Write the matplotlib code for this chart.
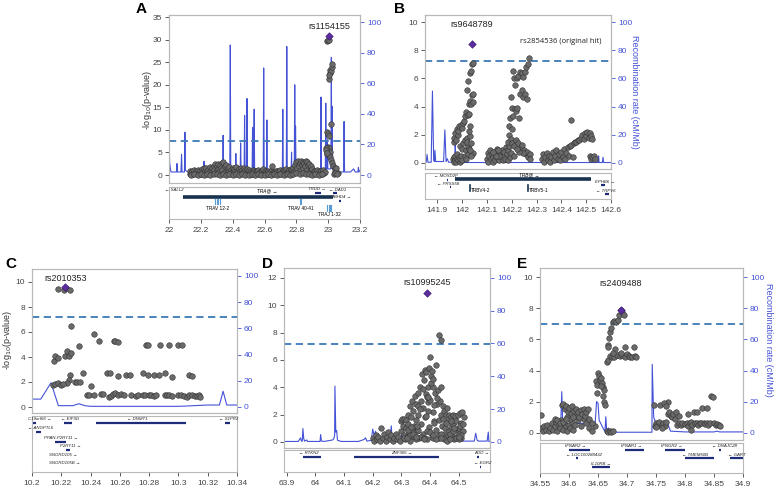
import matplotlib
matplotlib.use("Agg")
import matplotlib.pyplot as plt

plt.rcParams["font.family"] = ["Liberation Sans", "DejaVu Sans"]

# ==============================
# DATA
# ==============================
# --- panel A : TRA@ locus (chr14)
a_pos = [22.13, 22.135, 22.14, 22.145, 22.15, 22.155, 22.16, 22.165, 22.17, 22.175, 22.18, 22.185,
         22.19, 22.195, 22.2, 22.205, 22.21, 22.215, 22.22, 22.225, 22.23, 22.235, 22.24, 22.245,
         22.25, 22.255, 22.26, 22.265, 22.27, 22.275, 22.28, 22.285, 22.29, 22.295, 22.3, 22.305,
         22.31, 22.315, 22.32, 22.325, 22.33, 22.335, 22.34, 22.345, 22.35, 22.355, 22.36, 22.365,
         22.37, 22.375, 22.38, 22.385, 22.39, 22.395, 22.4, 22.405, 22.41, 22.415, 22.42, 22.425,
         22.43, 22.435, 22.44, 22.445, 22.45, 22.455, 22.46, 22.465, 22.47, 22.475, 22.48, 22.485,
         22.49, 22.495, 22.5, 22.505, 22.51, 22.515, 22.52, 22.525, 22.53, 22.535, 22.54, 22.545,
         22.55, 22.555, 22.56, 22.565, 22.57, 22.575, 22.58, 22.585, 22.59, 22.595, 22.6, 22.605,
         22.61, 22.615, 22.62, 22.625, 22.63, 22.635, 22.64, 22.645, 22.65, 22.655, 22.66, 22.665,
         22.67, 22.675, 22.68, 22.685, 22.69, 22.695, 22.7, 22.705, 22.71, 22.715, 22.72, 22.725,
         22.73, 22.735, 22.74, 22.745, 22.75, 22.755, 22.76, 22.765, 22.77, 22.775, 22.78, 22.785,
         22.79, 22.795, 22.8, 22.805, 22.81, 22.815, 22.82, 22.825, 22.83, 22.835, 22.84, 22.845,
         22.85, 22.855, 22.86, 22.865, 22.87, 22.875, 22.88, 22.885, 22.89, 22.895, 22.9, 22.905,
         22.91, 22.915, 22.92, 22.925, 22.93, 22.935, 22.94, 22.945, 22.95, 22.955, 22.96, 22.965,
         22.97, 22.975, 22.98,
         22.14, 22.16, 22.18, 22.2, 22.22, 22.24, 22.26, 22.28, 22.3, 22.32, 22.34, 22.36, 22.38,
         22.4, 22.42, 22.44, 22.46, 22.48, 22.5, 22.52, 22.54, 22.56, 22.58, 22.6, 22.62, 22.64,
         22.66, 22.68, 22.7, 22.72, 22.74, 22.76, 22.78, 22.8, 22.82, 22.84, 22.86, 22.88, 22.9,
         22.92, 22.94, 22.96,
         22.992, 23.002, 23.006, 23.01, 23.014, 23.019, 23.023, 23.021, 23.008, 23.006, 23.017,
         22.992, 22.998, 23.006, 22.998, 23.006, 23.01, 22.994, 23.014, 23.018, 23.027, 23.033,
         23.04, 23.044, 23.052, 23.06, 23.05, 22.985, 22.988, 22.99, 23.036, 23.046, 23.055]
a_logp = [0.3, 0.8, 0.5, 1.0, 0.2, 0.6, 1.1, 0.4, 0.9, 0.2, 0.7, 1.2,
          0.5, 0.9, 0.3, 1.3, 0.7, 0.4, 1.5, 1.0, 0.3, 1.6, 0.8, 1.2,
          0.5, 1.8, 1.0, 0.6, 1.5, 0.4, 2.1, 1.1, 2.4, 0.7, 2.0, 1.4,
          2.5, 0.9, 2.2, 1.6, 2.6, 1.2, 2.8, 0.5, 1.9, 1.0, 2.2, 0.6,
          1.5, 0.8, 1.8, 0.3, 1.2, 0.7, 1.6, 0.4, 1.3, 0.8, 1.7, 0.3,
          1.0, 0.6, 1.4, 0.9, 1.6, 0.4, 1.2, 0.7, 1.5, 0.2, 1.1, 0.6,
          1.3, 0.9, 0.4, 1.2, 0.7, 1.0, 0.3, 1.1, 0.6, 0.9, 0.2, 1.0,
          0.5, 0.8, 1.1, 0.3, 0.7, 1.0, 0.4, 0.8, 1.4, 0.5, 0.9, 0.3,
          0.7, 0.4, 0.9, 0.2, 0.6, 0.3, 0.8, 0.4, 2.0, 0.3, 0.7, 0.4,
          0.9, 0.5, 1.0, 0.3, 0.8, 0.5, 1.1, 0.3, 0.7, 1.2, 0.4, 0.9,
          0.6, 1.3, 0.5, 1.0, 0.4, 1.2, 0.7, 1.4, 0.3, 1.1, 1.6, 0.8,
          2.2, 1.2, 2.8, 1.5, 3.0, 2.0, 2.7, 1.0, 3.1, 2.3, 2.9, 1.5,
          2.6, 2.0, 3.0, 1.2, 2.8, 2.2, 2.5, 1.0, 2.0, 0.6, 1.4, 0.4,
          1.0, 0.3, 0.8, 0.5, 1.2, 0.3, 0.7, 1.0, 0.4, 0.8, 0.3, 0.6,
          1.1, 0.4, 0.7,
          0.1, 0.2, 0.1, 0.15, 0.1, 0.2, 0.1, 0.3, 0.2, 0.1, 0.3, 0.1, 0.2,
          0.1, 0.2, 0.1, 0.2, 0.1, 0.1, 0.2, 0.1, 0.2, 0.1, 0.1, 0.2, 0.1,
          0.2, 0.1, 0.2, 0.1, 0.2, 0.1, 0.3, 0.4, 0.2, 0.5, 0.3, 0.2, 0.1,
          0.2, 0.1, 0.2,
          29.8, 30.0, 29.85, 22.6, 23.4, 23.1, 24.0, 24.7, 21.4, 22.3, 11.4,
          9.6, 9.2, 8.6, 6.3, 5.9, 5.2, 4.6, 4.1, 3.3, 2.6, 2.1,
          1.5, 1.0, 0.7, 0.4, 1.5, 6.0, 5.5, 4.8, 0.3, 0.5, 0.2]
a_lead = (23.005, 30.8)
a_rec_pos = [22.0, 22.004, 22.012, 22.03, 22.047, 22.05, 22.053, 22.075, 22.079, 22.082, 22.097, 22.1,
             22.103, 22.12, 22.16, 22.217, 22.22, 22.223, 22.337, 22.34, 22.343, 22.382, 22.385,
             22.388, 22.417, 22.42, 22.423, 22.447, 22.45, 22.453, 22.472, 22.475, 22.478, 22.487,
             22.49, 22.493, 22.522, 22.525, 22.528, 22.532, 22.535, 22.538, 22.592, 22.595, 22.598,
             22.612, 22.615, 22.618, 22.637, 22.64, 22.643, 22.712, 22.715, 22.718, 22.737, 22.74,
             22.743, 22.767, 22.77, 22.773, 22.787, 22.79, 22.793, 22.795, 22.798, 22.85, 22.952,
             22.955, 22.958, 22.982, 22.985, 22.988, 22.993, 22.995, 22.998, 23.017, 23.02, 23.022,
             23.025, 23.028, 23.06, 23.097, 23.1, 23.103, 23.14, 23.16, 23.17, 23.187, 23.19, 23.193,
             23.2]
a_rec_rate = [27, 8, 2, 2, 2, 7.5, 2, 2, 13.5, 2, 2, 28,
              3, 2, 1.5, 1.5, 9, 1.5, 2, 26, 2, 2, 85,
              3, 2, 14, 2, 2, 21, 2, 2, 39, 3, 3,
              50, 3, 2, 31, 2, 2, 43, 2, 2, 70, 3,
              2, 36, 2, 1, 5, 1, 2, 43, 2, 2, 84,
              3, 2, 15, 2, 2, 59, 4, 32, 3, 2, 2,
              51, 3, 3, 47, 4, 4, 23, 4, 4, 77, 6,
              45, 4, 2, 2, 35, 2, 2, 4, 2, 2, 5, 2,
              3]

# --- panel B : TRB@ locus (chr7)
b_pos = [141.962, 141.965, 141.967, 141.97, 141.972, 141.975, 141.978, 141.98, 141.983, 141.986,
         141.99, 141.993, 141.996, 142.0,
         141.965, 141.968, 141.97, 141.975, 141.978, 141.982, 141.985, 141.988, 141.99, 141.995,
         141.998, 142.0, 142.003, 142.005, 142.008, 142.01, 142.012, 142.015, 142.016, 142.018,
         142.02, 142.022, 142.024, 142.025, 142.027, 142.028, 142.03, 142.031, 142.033, 142.035,
         142.036, 142.038, 142.04, 142.042, 142.042, 142.044, 142.02, 142.03, 142.035, 142.04,
         142.045, 142.01, 142.015, 142.022, 142.028, 142.033, 142.037, 142.026, 142.032,
         142.1, 142.103, 142.106, 142.11, 142.113, 142.116, 142.12, 142.123, 142.126, 142.13,
         142.133, 142.136, 142.14, 142.143, 142.146, 142.15, 142.153, 142.156, 142.16, 142.163,
         142.166, 142.17, 142.173, 142.176, 142.18, 142.183, 142.186, 142.19, 142.193, 142.196,
         142.15, 142.145, 142.135, 142.125,
         142.185, 142.188, 142.19, 142.192, 142.195, 142.197, 142.199, 142.2, 142.202, 142.204,
         142.205, 142.208, 142.21, 142.212, 142.213, 142.215, 142.218, 142.22, 142.222, 142.225,
         142.227, 142.23, 142.232, 142.235, 142.237, 142.24, 142.242, 142.245, 142.247, 142.25,
         142.252, 142.254, 142.256, 142.258, 142.26, 142.262, 142.265, 142.267, 142.27, 142.272,
         142.275, 142.24, 142.245, 142.23, 142.22, 142.21,
         142.32, 142.325, 142.33, 142.335, 142.34, 142.345, 142.35, 142.355, 142.36, 142.365,
         142.37, 142.375, 142.38, 142.385, 142.39, 142.395, 142.4, 142.405, 142.41, 142.415,
         142.42, 142.425, 142.43, 142.435, 142.44, 142.44, 142.445, 142.45, 142.455, 142.46,
         142.465, 142.47,
         142.48, 142.485, 142.49, 142.495, 142.5, 142.505, 142.51, 142.515, 142.52, 142.525,
         142.515, 142.52, 142.525, 142.53, 142.535]
b_logp = [0.3, 0.1, 0.4, 0.2, 0.5, 0.1, 0.3, 0.6, 0.2, 0.4,
          0.1, 0.3, 0.5, 0.2,
          1.5, 1.8, 2.1, 1.6, 2.4, 2.0, 2.3, 2.6, 1.2, 2.7,
          1.0, 2.5, 2.8, 1.4, 3.0, 1.6, 3.3, 0.9, 3.6, 1.8,
          5.15, 3.4, 5.8, 1.2, 3.5, 4.2, 0.8, 4.4, 6.4, 4.2,
          6.5, 4.8, 7.0, 7.1, 4.9, 4.3, 1.5, 1.9, 1.4, 0.6,
          0.7, 0.5, 0.3, 0.6, 1.0, 0.9, 0.5, 2.3, 2.6,
          0.3, 0.7, 0.1, 0.5, 0.9, 0.3, 0.6, 0.1, 0.4, 0.8,
          0.2, 0.5, 1.0, 0.3, 0.6, 0.2, 0.7, 0.4, 0.9, 0.2,
          0.5, 0.8, 0.3, 1.1, 0.6, 0.2, 0.9, 1.2, 0.4, 0.7,
          0.5, 0.9, 0.5, 0.8,
          1.5, 2.0, 2.6, 3.2, 1.7, 4.7, 2.4, 3.9, 1.4, 3.3,
          6.55, 1.2, 6.0, 3.8, 5.5, 1.6, 3.7, 6.05, 3.9, 6.2,
          1.4, 3.2, 6.45, 4.9, 1.1, 6.35, 5.15, 6.1, 4.7, 0.9,
          6.45, 4.9, 0.6, 6.8, 4.55, 0.8, 7.05, 0.4, 7.47, 0.6,
          0.3, 1.3, 0.7, 0.8, 1.0, 0.5,
          0.3, 0.6, 0.1, 0.4, 0.7, 0.2, 0.5, 0.1, 0.4, 0.8,
          0.2, 0.5, 0.9, 0.3, 0.6, 0.2, 0.8, 0.4, 1.0, 0.3,
          0.7, 1.1, 0.5, 1.2, 3.05, 1.3, 0.4, 1.4, 1.5, 1.5,
          1.6, 1.6,
          1.8, 2.0, 1.7, 2.1, 1.9, 2.2, 1.8, 2.1, 1.9, 1.7,
          0.5, 0.3, 0.4, 0.5, 0.3]
b_lead = (142.04, 8.45)
b_rec_pos = [141.85, 141.855, 141.858, 141.862, 141.875, 141.88, 141.885, 141.888, 141.89, 141.893,
             141.925, 141.93, 141.935, 141.94, 141.945, 141.97, 141.972, 141.974, 142.3, 142.548,
             142.55, 142.552, 142.565, 142.568, 142.57, 142.6]
b_rec_rate = [0.5, 0.5, 6, 0.5, 0.5, 51, 2, 1, 9, 1,
              1, 23.5, 1, 3, 0.5, 0.5, 18, 0.3, 0.3, 0.3,
              5, 0.3, 0.3, 4, 0.3, 0.3]

# --- panel C : DNMT1 locus (chr19)
c_pos = [10.218, 10.2216, 10.2235, 10.226,
         10.2269, 10.242, 10.246, 10.232,
         10.215, 10.216, 10.218, 10.2228, 10.2239, 10.225, 10.2269,
         10.2558, 10.257, 10.2585,
         10.278, 10.2795, 10.2876, 10.2938, 10.3, 10.3024,
         10.235, 10.251, 10.2535, 10.2585, 10.2644, 10.267, 10.2758, 10.279, 10.283, 10.2865,
         10.2906, 10.2956, 10.307, 10.309,
         10.2262, 10.225, 10.224,
         10.2145, 10.216, 10.218, 10.2195, 10.221,
         10.2296, 10.231, 10.2326, 10.24,
         10.2375, 10.239, 10.2425, 10.247, 10.2485, 10.2525, 10.254, 10.2555, 10.257, 10.2585,
         10.2605, 10.2625, 10.2675, 10.271, 10.2725, 10.276, 10.2775, 10.28, 10.2815, 10.283,
         10.285, 10.2905, 10.292, 10.2935, 10.2955, 10.3, 10.302, 10.304, 10.306, 10.3075,
         10.309, 10.311, 10.3125, 10.314, 10.315]
c_logp = [9.44, 9.39, 9.5, 9.33,
          6.45, 5.84, 5.3, 4.85,
          3.7, 4.1, 3.92, 4.05, 4.48, 4.05, 4.3,
          5.25, 5.25, 5.2,
          5.0, 5.0, 5.0, 5.0, 5.0, 5.0,
          2.72, 2.72, 2.72, 2.5, 2.6, 2.6, 2.72, 2.53, 2.53, 2.53,
          2.72, 2.4, 2.6, 2.5,
          2.53, 2.13, 1.92,
          1.75, 1.85, 1.95, 1.8, 1.85,
          2.0, 2.0, 2.0, 1.65,
          1.0, 1.0, 1.0, 1.05, 1.05, 0.8, 0.9, 1.05, 1.1, 1.0,
          1.05, 0.95, 1.0, 0.9, 1.0, 1.0, 1.0, 0.95, 1.0, 0.85,
          0.95, 1.0, 1.0, 0.95, 0.85, 1.0, 0.95, 0.9, 0.8, 1.0,
          0.95, 0.9, 0.85, 0.95, 0.8]
c_lead = (10.2228, 9.57)
c_rec_pos = [10.2, 10.206, 10.213, 10.218, 10.228, 10.232, 10.236, 10.24, 10.3, 10.305,
             10.32, 10.328, 10.3305, 10.333, 10.34]
c_rec_rate = [6, 6, 18.5, 1, 1, 2.5, 1, 0.5, 0.5, 0.7,
              1.5, 1.5, 12, 1.5, 1.5]

# --- panel D : ZNF365 locus (chr10)
d_pos = [64.2, 64.205, 64.21, 64.215, 64.22, 64.225, 64.23, 64.235, 64.24, 64.245, 64.25, 64.255,
         64.26, 64.265, 64.27, 64.275, 64.28, 64.285, 64.29, 64.295, 64.3,
         64.3, 64.302, 64.305, 64.308, 64.31, 64.312, 64.315, 64.318, 64.32, 64.322, 64.325,
         64.328, 64.33, 64.332, 64.335, 64.338, 64.34, 64.342, 64.345, 64.348, 64.35, 64.352,
         64.355, 64.358, 64.36, 64.362, 64.365, 64.368, 64.37, 64.372, 64.375, 64.377, 64.38,
         64.382, 64.384, 64.386, 64.388, 64.39, 64.392, 64.394, 64.396, 64.398, 64.4, 64.402,
         64.404, 64.406, 64.408, 64.41, 64.412, 64.415, 64.418, 64.42, 64.422, 64.425, 64.428,
         64.43, 64.432, 64.435, 64.438, 64.44, 64.442, 64.445, 64.448, 64.45, 64.452, 64.455,
         64.458, 64.46, 64.462, 64.465, 64.468, 64.47, 64.472, 64.475, 64.478, 64.48, 64.482,
         64.485, 64.488, 64.49, 64.492, 64.495, 64.498, 64.5, 64.502, 64.505, 64.508, 64.51,
         64.512, 64.515, 64.518,
         64.31, 64.33, 64.35, 64.37, 64.39, 64.41, 64.43, 64.45, 64.47, 64.49, 64.51, 64.34,
         64.36, 64.38, 64.4, 64.42, 64.44, 64.46, 64.48, 64.5,
         64.375, 64.39, 64.405, 64.415, 64.36, 64.345, 64.395, 64.41,
         64.325, 64.355, 64.385, 64.415, 64.445, 64.475, 64.505, 64.335, 64.365, 64.395,
         64.425, 64.455, 64.485, 64.515, 64.32, 64.35, 64.38, 64.41, 64.44, 64.47, 64.5,
         64.43, 64.44]
d_logp = [0.3, 0.1, 0.5, 0.2, 0.4, 0.1, 1.0, 0.3, 0.6, 0.1, 0.4, 0.7,
          0.2, 0.5, 0.1, 0.3, 0.6, 0.2, 0.4, 0.1, 0.8,
          1.5, 1.7, 1.2, 0.5, 1.7, 0.2, 1.0, 1.6, 0.4, 2.0, 1.3,
          0.7, 2.6, 0.1, 1.8, 3.0, 1.0, 2.3, 0.4, 3.4, 1.6, 2.8,
          0.8, 3.6, 2.0, 0.3, 4.0, 1.3, 3.0, 5.0, 0.6, 2.5, 4.5,
          5.3, 1.8, 3.5, 5.1, 0.2, 4.0, 2.9, 5.4, 1.1, 6.2, 3.1,
          4.8, 0.5, 5.2, 2.2, 4.0, 1.5, 3.6, 5.6, 0.9, 2.8, 3.8,
          1.6, 0.3, 3.0, 2.0, 4.0, 1.2, 2.6, 0.6, 2.3, 1.0, 2.0,
          0.4, 2.5, 1.5, 0.8, 2.0, 0.3, 1.8, 1.1, 0.5, 2.0, 1.3,
          0.2, 1.9, 0.9, 1.5, 0.4, 2.0, 1.0, 0.6, 2.1, 1.4, 0.3,
          2.2, 0.8, 1.8,
          0.3, 0.5, 0.2, 0.4, 0.8, 0.3, 0.5, 0.2, 0.6, 0.3, 0.5, 0.6,
          0.9, 0.3, 0.7, 0.2, 0.6, 0.1, 0.8, 0.2,
          3.9, 3.3, 4.3, 2.7, 2.6, 1.2, 2.3, 4.6,
          0.9, 1.2, 1.9, 1.4, 1.7, 1.5, 1.2, 1.1, 2.4, 3.3,
          3.2, 1.4, 1.0, 1.3, 0.3, 0.4, 0.2, 0.5, 0.3, 0.2, 0.4,
          7.8, 7.45]
d_lead = (64.39, 10.9)
d_rec_pos = [63.89, 63.94, 63.948, 63.951, 63.954, 63.956, 63.959, 63.962, 63.97, 63.972, 64.0,
             64.016, 64.018, 64.021, 64.03, 64.06, 64.064, 64.067, 64.068, 64.071, 64.074,
             64.077, 64.09, 64.15, 64.17, 64.175, 64.18, 64.195, 64.2, 64.205, 64.21, 64.215,
             64.22, 64.225, 64.26, 64.265, 64.268, 64.3, 64.305, 64.308, 64.315, 64.35, 64.4,
             64.45, 64.5, 64.555, 64.56, 64.565, 64.57, 64.6, 64.604, 64.606, 64.61]
d_rec_rate = [0.3, 0.3, 2.5, 0.5, 0.5, 8.2, 2, 0.5, 1.2, 0.3, 0.3,
              0.3, 4.5, 0.5, 0.3, 1.2, 2, 4, 34, 6, 7,
              1, 0.3, 0.3, 1.5, 2.5, 0.5, 1, 7.8, 4, 6.5, 3,
              5, 0.5, 0.5, 9.8, 1, 1, 13.7, 6, 3, 1.5, 1.5,
              1, 0.5, 0.5, 5.3, 1, 0.5, 0.5, 6, 0.3, 0.3]

# --- panel E : IFNAR locus (chr21)
e_pos = [34.551, 34.552, 34.555, 34.557, 34.56, 34.562, 34.565, 34.567, 34.57, 34.572, 34.575,
         34.577, 34.58, 34.582, 34.585, 34.587, 34.59, 34.592, 34.595, 34.597, 34.6, 34.602,
         34.605, 34.607, 34.61, 34.615, 34.62, 34.625, 34.63, 34.635, 34.64,
         34.588, 34.59, 34.593, 34.595, 34.598, 34.6, 34.603, 34.605, 34.608, 34.61, 34.612,
         34.615, 34.617, 34.62, 34.622, 34.625, 34.627, 34.63, 34.632, 34.635, 34.597, 34.602,
         34.607, 34.575, 34.58, 34.585, 34.59, 34.595,
         34.646, 34.648, 34.65, 34.652, 34.654, 34.656, 34.657, 34.658, 34.66, 34.659, 34.661,
         34.662, 34.649, 34.655, 34.645, 34.64,
         34.665, 34.667, 34.67, 34.672, 34.675,
         34.666, 34.667, 34.668, 34.667, 34.669, 34.671, 34.672, 34.675, 34.678, 34.681, 34.684,
         34.686, 34.69, 34.692, 34.695, 34.68, 34.685, 34.696, 34.712,
         34.67, 34.674, 34.678, 34.682, 34.688, 34.692, 34.697, 34.7, 34.703, 34.706, 34.709,
         34.713, 34.716, 34.676, 34.69,
         34.746, 34.748, 34.75, 34.752, 34.755, 34.757, 34.76, 34.762, 34.765, 34.767, 34.77,
         34.771, 34.773, 34.775, 34.777, 34.78, 34.782, 34.785, 34.787, 34.79, 34.793, 34.795,
         34.8, 34.803, 34.805, 34.808, 34.81, 34.812, 34.815, 34.818, 34.82, 34.822, 34.825,
         34.828, 34.83, 34.832, 34.835, 34.838, 34.84, 34.843, 34.845, 34.848, 34.85, 34.853,
         34.855, 34.858, 34.86, 34.764, 34.768, 34.79, 34.805, 34.81, 34.82, 34.838, 34.76,
         34.75]
e_logp = [1.14, 0.3, 0.1, 0.4, 0.2, 0.5, 0.1, 0.3, 0.6, 0.2, 0.4,
          0.7, 0.1, 0.5, 0.3, 0.8, 0.2, 0.6, 0.4, 0.1, 0.5, 0.3,
          0.7, 0.2, 0.5, 0.8, 0.4, 0.9, 0.6, 0.3, 0.1,
          1.8, 1.85, 1.5, 1.75, 1.3, 1.6, 1.2, 1.7, 1.4, 1.1, 1.55,
          1.3, 1.0, 1.45, 1.2, 1.5, 1.1, 1.3, 1.5, 0.9, 1.0, 0.9,
          1.0, 0.9, 0.8, 0.6, 0.7, 0.9,
          3.3, 3.1, 3.86, 3.65, 3.4, 3.54, 3.18, 2.96, 2.75, 2.38, 2.0,
          1.78, 2.57, 3.0, 0.4, 0.6,
          0.1, 0.05, 0.1, 0.05, 0.1,
          4.55, 4.7, 5.64, 5.53, 6.07, 6.45, 6.76, 7.1, 7.19, 7.15, 7.25,
          7.57, 7.9, 7.75, 7.57, 5.39, 5.0, 5.53, 5.49,
          4.95, 4.9, 4.85, 5.0, 4.95, 5.0, 4.9, 5.05, 4.95, 4.85, 4.9,
          4.95, 4.9, 5.1, 5.1,
          1.78, 0.4, 0.6, 0.5, 0.7, 1.78, 0.5, 0.6, 0.4, 0.7, 1.2,
          2.0, 1.3, 1.1, 1.0, 1.2, 0.9, 1.3, 0.5, 0.6, 0.5, 0.6,
          0.55, 0.6, 0.4, 0.6, 0.7, 0.5, 1.3, 0.6, 0.65, 0.5, 0.6,
          0.65, 1.57, 0.6, 0.55, 0.6, 0.5, 0.6, 2.36, 2.32, 0.6, 0.5,
          0.55, 0.5, 0.4, 1.9, 1.7, 1.1, 1.2, 0.2, 1.3, 1.6, 0.3,
          0.35]
e_lead = (34.689, 7.9)
e_rec_pos = [34.55, 34.552, 34.555, 34.56, 34.57, 34.58, 34.586, 34.5875, 34.589, 34.591, 34.6,
             34.62, 34.632, 34.634, 34.636, 34.645, 34.6475, 34.65, 34.652, 34.66, 34.662,
             34.6635, 34.665, 34.668, 34.671, 34.68, 34.72, 34.743, 34.7435, 34.746, 34.75,
             34.77, 34.775, 34.8, 34.85, 34.855, 34.86, 34.9]
e_rec_rate = [7, 2, 3, 5, 4.5, 6, 8, 26.4, 8, 4, 6,
              6, 6, 8, 5, 5, 20, 19, 8, 2, 1,
              10.3, 1, 3, 1, 0.3, 0.3, 0.3, 44, 10, 6,
              6, 1, 0.5, 0.5, 1, 0.5, 0.5]

# gene tracks: (start, end, y_px_from_top, label, label_x, label_y_px)
a_genes = [(22.0, 22.002, 4, "← SALL2", 22.03, 3), (22.915, 22.955, 6, "TRDD →", 22.93, 2),
           (23.03, 23.055, 6, "← DAD1", 23.06, 3), (23.07, 23.08, 14, "ABHD4 →", 23.08, 10)]
b_genes = [(141.938, 141.942, 7, "← MOXD2P", 141.935, 3), (141.952, 141.956, 14, "← PRSS58", 141.945, 11),
           (142.56, 142.575, 12, "EPHB6 →", 142.575, 9), (142.575, 142.59, 21, "← TRPV6", 142.58, 18)]
c_genes = [(10.2, 10.203, 7, "C19orf66 →", 10.205, 3), (10.222, 10.227, 7, "← EIF3G", 10.226, 3),
           (10.244, 10.305, 7, "← DNMT1", 10.272, 3), (10.332, 10.335, 7, "← S1PR2", 10.334, 3),
           (10.2025, 10.206, 16, "← ANGPTL6", 10.206, 12), (10.216, 10.223, 26, "PPAN-P2RY11 →", 10.22, 22),
           (10.223, 10.226, 34, "P2RY11 →", 10.226, 30), (10.2195, 10.2198, 43, "SNORD105 →", 10.221, 39),
           (10.2205, 10.2208, 51, "SNORD105B →", 10.222, 47)]
d_genes = [(63.955, 64.02, 7, "← RTKN2", 63.975, 3), (64.135, 64.43, 7, "ZNF365 →", 64.3, 3),
           (64.566, 64.572, 7, "ADO →", 64.58, 3), (64.575, 64.58, 17, "← EGR2", 64.585, 13)]
e_genes = [(34.6, 34.636, 7, "IFNAR2 →", 34.612, 3), (34.612, 34.616, 15, "← LOC100288432", 34.625, 12),
           (34.64, 34.67, 24, "IL10RB →", 34.655, 21), (34.696, 34.73, 7, "IFNAR1 →", 34.708, 3),
           (34.766, 34.8, 7, "IFNGR2 →", 34.778, 3), (34.8, 34.85, 15, "← TMEM50B", 34.818, 12),
           (34.858, 34.862, 7, "← DNAJC28", 34.868, 3), (34.878, 34.9, 15, "← GART", 34.89, 12)]

# ==============================
# STYLE
# ==============================
W, H = 776, 492
GRAY = "#b8b8b8"
REC = "#4452d6"
DASH = "#3a78b6"
PT = "#6a6a6a"
LEAD = "#5b2d9e"

fig = plt.figure(figsize=(W / 100, H / 100), dpi=100)


def rect(l, t, r, b):
    return [l / W, 1 - b / H, (r - l) / W, (b - t) / H]


def fmt(v):
    return f"{round(v, 3):g}"


def panel(main_px, gene_px, xlim, xticks, ylim, yticks, rlim, thr,
          pos, logp, lead, lead_lab, rec_pos, rec_rate, genes, letter, letter_px):
    ax = fig.add_axes(rect(*main_px))
    ax2 = ax.twinx()
    ax.set_zorder(ax2.get_zorder() + 1)
    ax.patch.set_visible(False)

    ax2.plot(rec_pos, rec_rate, color=REC, lw=0.8)
    ax2.set_ylim(*rlim)
    ax2.set_yticks([0, 20, 40, 60, 80, 100])
    ax2.tick_params(axis="y", colors=REC, labelsize=6, length=3, width=0.6, pad=2)

    ax.axhline(thr, color=DASH, lw=1.3, ls=(0, (4, 2.5)), zorder=1)
    ax.scatter(pos, logp, s=16, c=PT, edgecolors="#333333", linewidths=0.4, zorder=3)
    ax.scatter([lead[0]], [lead[1]], s=15, marker="D", c=LEAD, edgecolors="#3a1a70",
               linewidths=0.4, zorder=4)
    ax.text(lead[0], lead_lab, f"rs{letter_px[2]}", ha="center", va="center", fontsize=6.5,
            color="#222222")
    ax.set_xlim(*xlim)
    ax.set_ylim(*ylim)
    ax.set_yticks(yticks)
    ax.set_xticks([])
    ax.tick_params(axis="y", labelsize=6, colors="#444444", length=3, width=0.6, pad=2)
    for a in (ax, ax2):
        for sp in a.spines.values():
            sp.set_color(GRAY)
            sp.set_linewidth(0.8)

    g = fig.add_axes(rect(*gene_px))
    gh = gene_px[3] - gene_px[1]
    g.set_xlim(*xlim)
    g.set_ylim(gh, 0)
    g.set_yticks([])
    g.set_xticks(xticks)
    g.set_xticklabels([fmt(v) for v in xticks])
    g.tick_params(axis="x", labelsize=6, colors="#444444", length=3, width=0.6, pad=3)
    for sp in g.spines.values():
        sp.set_color(GRAY)
        sp.set_linewidth(0.8)
    for s, e, y, lab, lx, ly in genes:
        g.plot([s, e], [y, y], color="#1d2c7a", lw=1.6, solid_capstyle="butt")
        g.text(lx, ly, lab, ha="center", va="center", fontsize=3.2, style="italic",
               color="#222222")

    fig.text(letter_px[0] / W, 1 - letter_px[1] / H, letter, fontsize=11, fontweight="bold",
             ha="left", va="center")
    return ax, g


# A
ax_a, g_a = panel((169, 15, 360, 183), (169, 187, 360, 219), (22.0, 23.2),
                  [22, 22.2, 22.4, 22.6, 22.8, 23, 23.2], (-1.77, 35.5), range(0, 36, 5),
                  (-5.2, 104.6), 7.5, a_pos, a_logp, a_lead, 33.0,
                  a_rec_pos, a_rec_rate, a_genes, "A", (136, 9, "1154155"))
g_a.plot([22.09, 23.03], [10, 10], color="#17324f", lw=2.6, solid_capstyle="butt")
g_a.text(22.62, 4, "TRA@ →", ha="center", va="center", fontsize=3.4, style="italic")
for x in [22.29, 22.30, 22.31, 22.32, 22.825, 22.832, 22.995, 23.003, 23.011, 23.019]:
    yy = 21 if x > 22.9 else 15
    g_a.plot([x, x], [yy - 2.5, yy + 2.5], color="#5a9bd6", lw=0.8)
g_a.text(22.305, 21, "TRAV 12-2", ha="center", va="center", fontsize=3.4)
g_a.text(22.83, 22, "TRAV 40-41", ha="center", va="center", fontsize=3.4)
g_a.text(23.007, 27, "TRAJ 1-32", ha="center", va="center", fontsize=3.4)
fig.text(147 / W, 1 - 100 / H, r"-log$_{10}$(p-value)", rotation=90, fontsize=6.5,
         ha="center", va="center", color="#333333")

# B
ax_b, g_b = panel((425, 15, 611, 169), (425, 173, 611, 199), (141.85, 142.6),
                  [141.9, 142.0, 142.1, 142.2, 142.3, 142.4, 142.5, 142.6], (-0.43, 10.5),
                  range(0, 11, 2), (-4.3, 105), 7.25, b_pos, b_logp, b_lead, 9.8,
                  b_rec_pos, b_rec_rate, b_genes, "B", (394, 9, "9648789"))
g_b.plot([141.97, 142.52], [6, 6], color="#17324f", lw=2.6, solid_capstyle="butt")
g_b.text(142.27, 2, "TRB@ →", ha="center", va="center", fontsize=3.4, style="italic")
for x, lab in [(142.03, "TRBV4-2"), (142.265, "TRBV5-1")]:
    g_b.plot([x, x], [12, 18], color="#17324f", lw=1.2)
    g_b.text(x + 0.004, 17, lab, ha="left", va="center", fontsize=3.4)
ax_b.text(142.235, 8.65, "rs2854536 (original hit)", fontsize=5.5, ha="left", va="center",
          family=["Open Sans", "DejaVu Sans"], color="#222222")
fig.text(634 / W, 1 - 92 / H, "Recombination rate (cM/Mb)", rotation=-90, fontsize=6.5,
         ha="center", va="center", color=REC)

# C
ax_c, g_c = panel((32, 269, 237, 413), (32, 416, 237, 472), (10.2, 10.34),
                  [10.2, 10.22, 10.24, 10.26, 10.28, 10.3, 10.32, 10.34], (-0.48, 11.04),
                  range(0, 11, 2), (-4.6, 105.3), 7.2, c_pos, c_logp, c_lead, 10.25,
                  c_rec_pos, c_rec_rate, c_genes, "C", (5, 264, "2010353"))
fig.text(8 / W, 1 - 340 / H, r"-log$_{10}$(p-value)", rotation=90, fontsize=6.5,
         ha="center", va="center", color="#333333")

# D
ax_d, g_d = panel((284, 268, 490, 448), (284, 450, 490, 472), (63.89, 64.61),
                  [63.9, 64.0, 64.1, 64.2, 64.3, 64.4, 64.5], (-0.44, 12.73),
                  range(0, 13, 2), (-3.7, 106), 7.2, d_pos, d_logp, d_lead, 11.7,
                  d_rec_pos, d_rec_rate, d_genes, "D", (262, 264, "10995245"))

# E
ax_e, g_e = panel((540, 268, 743, 440), (540, 443, 743, 473), (34.55, 34.9),
                  [34.55, 34.6, 34.65, 34.7, 34.75, 34.8, 34.85, 34.9], (-0.47, 10.6),
                  range(0, 11, 2), (-4.7, 106), 7.0, e_pos, e_logp, e_lead, 9.6,
                  e_rec_pos, e_rec_rate, e_genes, "E", (517, 264, "2409488"))
fig.text(768 / W, 1 - 340 / H, "Recombination rate (cM/Mb)", rotation=-90, fontsize=6.5,
         ha="center", va="center", color=REC)

fig.savefig("out.png", dpi=100)
print("✓ out.png saved")
